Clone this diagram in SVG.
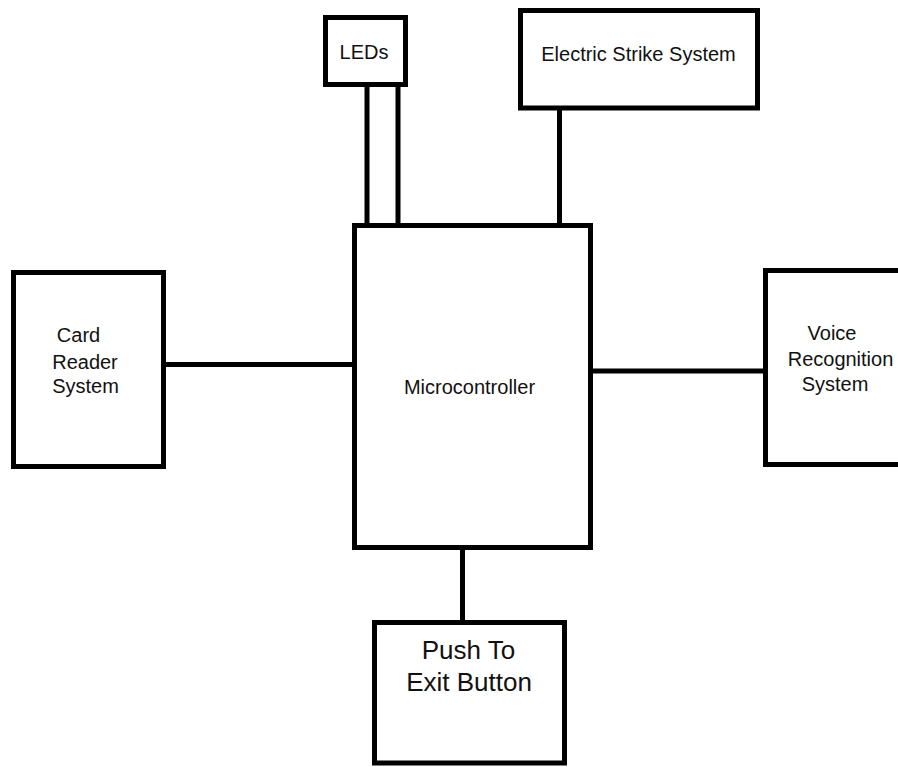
<svg xmlns="http://www.w3.org/2000/svg" width="898" height="767" viewBox="0 0 898 767">
<style>
.box{fill:#fff;stroke:#000;stroke-width:5}
.ln{stroke:#000;stroke-width:5;fill:none}
text{font-family:"Liberation Sans",Arial,sans-serif;font-size:20px;fill:#111;text-anchor:middle}
.big{font-size:26px}
</style>
<rect width="898" height="767" fill="#fff"/>
<g id="connectors">
<line class="ln" x1="367" y1="86" x2="367" y2="226"/>
<line class="ln" x1="398" y1="86" x2="398" y2="226"/>
<line class="ln" x1="559.5" y1="108" x2="559.5" y2="226"/>
<line class="ln" x1="166" y1="364.5" x2="354" y2="364.5"/>
<line class="ln" x1="591" y1="371" x2="766" y2="371"/>
<line class="ln" x1="462.5" y1="548" x2="462.5" y2="623"/>
</g>
<g id="leds">
<rect class="box" x="325.5" y="17.5" width="80" height="67"/>
<text x="364" y="59">LEDs</text>
</g>
<g id="electric-strike">
<rect class="box" x="520.5" y="10.5" width="237" height="97.5"/>
<text x="638.5" y="61">Electric Strike System</text>
</g>
<g id="microcontroller">
<rect class="box" x="354.5" y="225.5" width="236" height="322"/>
<text x="469.5" y="394">Microcontroller</text>
</g>
<g id="card-reader">
<rect class="box" x="13.5" y="272.5" width="150" height="194"/>
<text x="78.5" y="342">Card</text>
<text x="85" y="369">Reader</text>
<text x="85.5" y="393">System</text>
</g>
<g id="voice-recognition">
<rect class="box" x="765.5" y="270.5" width="200" height="194"/>
<text x="832" y="340">Voice</text>
<text x="840.5" y="366">Recognition</text>
<text x="835" y="391">System</text>
</g>
<g id="push-to-exit">
<rect class="box" x="374.5" y="622.5" width="190" height="140.5"/>
<text class="big" x="468.5" y="659">Push To</text>
<text class="big" x="469" y="691">Exit Button</text>
</g>
</svg>
